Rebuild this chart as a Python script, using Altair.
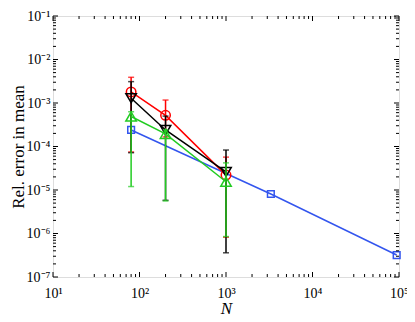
import altair as alt
import pandas as pd

# ---- data ----
N_err = [80, 200, 1000]
red_mean = [1.8e-3, 5.2e-4, 2.2e-5]
red_lo = [7.5e-5, 1.66e-4, 8.2e-7]
red_hi = [3.9e-3, 1.17e-3, 5.7e-5]
black_mean = [1.29e-3, 2.4e-4, 2.6e-5]
black_lo = [7.2e-5, 5.8e-6, 3.6e-7]
black_hi = [3.1e-3, 5.0e-4, 8.3e-5]
green_mean = [4.9e-4, 1.95e-4, 1.55e-5]
green_lo = [1.2e-5, 5.6e-6, 8.5e-7]
green_hi = [6.3e-4, 2.4e-4, 4.2e-5]
blue_N = [80, 3300, 94000]
blue_mean = [2.4e-4, 8.1e-6, 3.2e-7]

x_major = [10, 100, 1000, 10000, 100000]
y_major = [1e-7, 1e-6, 1e-5, 1e-4, 1e-3, 1e-2, 1e-1]

W, H = 346, 261
FONT = "Liberation Serif"

x_minor = [d * m for m in x_major[:-1] for d in range(2, 10)]
y_minor = [d * m for m in y_major[:-1] for d in range(2, 10)]

xs = alt.Scale(type="log", domain=[10, 1e5], nice=False)
ys = alt.Scale(type="log", domain=[1e-7, 1e-1], nice=False)

sup_arr = "['⁻⁷','⁻⁶','⁻⁵','⁻⁴','⁻³','⁻²','⁻¹','⁰','¹','²','³','⁴','⁵']"
lab_expr = "'10' + " + sup_arr + "[round(log(datum.value)/LN10)+7]"

x_axis = alt.Axis(values=x_major, labelExpr=lab_expr, ticks=False, domain=False,
                  grid=False, labelFont=FONT, labelFontSize=14, labelColor="black",
                  labelPadding=9, labelFlush=False, title="N",
                  titleFont=FONT, titleFontStyle="italic", titleFontWeight="normal",
                  titleFontSize=17, titleColor="black",
                  titleX=W / 2, titleY=36, titleBaseline="alphabetic",
                  titleAlign="center")
y_axis = alt.Axis(values=y_major, labelExpr=lab_expr, ticks=False, domain=False,
                  grid=False, labelFont=FONT, labelFontSize=14, labelColor="black",
                  labelPadding=3, labelFlush=False, title="Rel. error in mean",
                  titleFont=FONT, titleFontWeight="normal", titleFontSize=17,
                  titleColor="black", titleX=-35, titleY=H / 2, titleAngle=-90,
                  titleBaseline="middle", titleAlign="center")


def X(f="N"):
    return alt.X(f + ":Q", scale=xs, axis=x_axis, title="N")


def Y(f="err"):
    return alt.Y(f + ":Q", scale=ys, axis=y_axis, title="Rel. error in mean")


def err_df(mean, lo, hi):
    return pd.DataFrame({"N": N_err, "err": mean, "lo": lo, "hi": hi})


series = [
    ("red", "#ff0000", "circle", 90, err_df(red_mean, red_lo, red_hi)),
    ("black", "#000000", "triangle-down", 110, err_df(black_mean, black_lo, black_hi)),
    ("green", "#22cc22", "triangle-up", 110, err_df(green_mean, green_lo, green_hi)),
]

layers = []

# blue line (no error bars)
blue_df = pd.DataFrame({"N": blue_N, "err": blue_mean})
base_blue = alt.Chart(blue_df).encode(x=X(), y=Y())
layers.append(base_blue.mark_line(color="#3355ee", strokeWidth=1.5))
layers.append(base_blue.mark_point(shape="square", filled=False, color="#3355ee",
                                   size=45, strokeWidth=1.5, opacity=1))

for name, col, shape, sz, df in series:
    b = alt.Chart(df)
    layers.append(b.mark_rule(color=col, strokeWidth=1.5).encode(
        x=X(), y=Y("lo"), y2="hi:Q"))
    for f in ["lo", "hi"]:
        layers.append(b.mark_tick(color=col, orient="horizontal", size=6,
                                  thickness=1.5).encode(x=X(), y=Y(f)))
    bb = b.encode(x=X(), y=Y())
    layers.append(bb.mark_line(color=col, strokeWidth=1.5))
    layers.append(bb.mark_point(shape=shape, filled=False, color=col, size=sz,
                                strokeWidth=1.5, opacity=1))


# inward ticks on all four sides
def xticks(vals, L):
    d = pd.DataFrame({"N": vals})
    c = alt.Chart(d).mark_rule(color="black", strokeWidth=1)
    return [
        c.encode(x=X(), y=alt.value(H), y2=alt.value(H - L)),
        c.encode(x=X(), y=alt.value(0), y2=alt.value(L)),
    ]


def yticks(vals, L):
    d = pd.DataFrame({"err": vals})
    c = alt.Chart(d).mark_rule(color="black", strokeWidth=1)
    return [
        c.encode(y=Y(), x=alt.value(0), x2=alt.value(L)),
        c.encode(y=Y(), x=alt.value(W), x2=alt.value(W - L)),
    ]


layers += xticks(x_major, 5) + xticks(x_minor, 3)
layers += yticks(y_major, 5) + yticks(y_minor, 3)

chart = alt.layer(*layers).properties(
    width=W, height=H,
    autosize=alt.AutoSizeParams(type="none"),
    padding={"left": 45, "top": 8, "right": 8, "bottom": 37},
).configure_view(stroke="black", strokeWidth=1.2).configure(background="white")

chart.save("out.html", embed_options={"renderer": "svg", "actions": False})
